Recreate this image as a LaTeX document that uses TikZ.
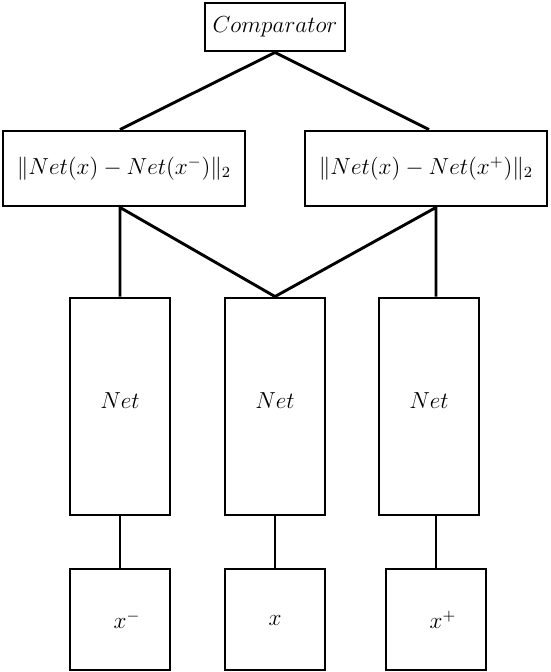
\documentclass[tikz,border=0pt]{standalone}
\begin{document}
\begin{tikzpicture}[x=0.5172pt,y=-0.5172pt,
  box/.style 2 args={draw, line width=1.5pt, inner sep=0pt, minimum width=#1, minimum height=#2},
  wire/.style={line width=1.5pt},
  every node/.style={font=\large}]
\useasboundingbox (0,0) rectangle (550,672);
% top
\node[box={72.41pt}{24.83pt}] (cmp) at (275,27) {$Comparator$};
% norms
\node[box={125.17pt}{38.79pt}] (nL) at (124,168.5) {$\|Net(x)-Net(x^{-})\|_2$};
\node[box={125.17pt}{38.79pt}] (nR) at (426,168.5) {$\|Net(x)-Net(x^{+})\|_2$};
% nets
\node[box={51.72pt}{112.24pt}] (netL) at (120,406.5) {};
\node[box={51.72pt}{112.24pt}] (netM) at (275,406.5) {};
\node[box={51.72pt}{112.24pt}] (netR) at (429,406.5) {};
\node (lL) at (120,401) {$Net$};
\node (lM) at (275,401) {$Net$};
\node (lR) at (429,401) {$Net$};
% inputs
\node[box={51.72pt}{52.24pt}] (inL) at (120,619.5) {};
\node[box={51.72pt}{52.24pt}] (inM) at (275,619.5) {};
\node[box={51.72pt}{52.24pt}] (inR) at (436,619.5) {};
\node (tL) at (127,620) {$x^{-}$};
\node (tM) at (275,620) {$x$};
\node (tR) at (443,620) {$x^{+}$};
% connectors
\draw[wire] (netL.north |- nL.north) -- (cmp.south) -- (netR.north |- nR.north);
\draw[wire] (netL.north) -- (netL.north |- nL.south) -- (netM.north)
  -- (inR.north |- nR.south) -- (inR.north |- netR.north);
\draw[wire] (netL.south) -- (inL.north);
\draw[wire] (netM.south) -- (inM.north);
\draw[wire] (inR.north |- netR.south) -- (inR.north);
\end{tikzpicture}
\end{document}
